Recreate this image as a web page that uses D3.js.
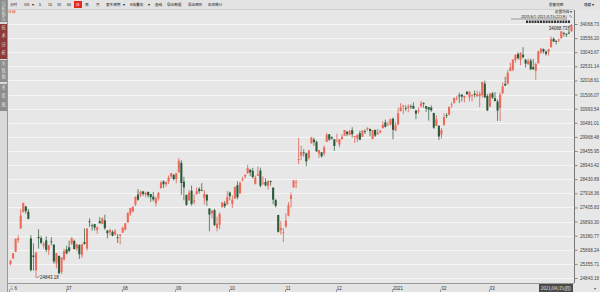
<!DOCTYPE html>
<html><head><meta charset="utf-8">
<script src="https://cdn.jsdelivr.net/npm/d3@7/dist/d3.min.js"></script>
<style>
html,body{margin:0;padding:0;background:#e6e6e6;overflow:hidden}
svg{display:block}
text{font-family:"Noto Sans CJK SC","Noto Sans",sans-serif}
</style></head><body>
<svg id="c" width="600" height="292"></svg>
<script>
const dates = [
"2020-06-01","2020-06-02","2020-06-03","2020-06-04","2020-06-05","2020-06-08","2020-06-09","2020-06-10","2020-06-11","2020-06-12","2020-06-15","2020-06-16","2020-06-17","2020-06-18","2020-06-19","2020-06-22","2020-06-23","2020-06-24","2020-06-25","2020-06-26","2020-06-29","2020-06-30",
"2020-07-01","2020-07-02","2020-07-06","2020-07-07","2020-07-08","2020-07-09","2020-07-10","2020-07-13","2020-07-14","2020-07-15","2020-07-16","2020-07-17","2020-07-20","2020-07-21","2020-07-22","2020-07-23","2020-07-24","2020-07-27","2020-07-28","2020-07-29","2020-07-30","2020-07-31",
"2020-08-03","2020-08-04","2020-08-05","2020-08-06","2020-08-07","2020-08-10","2020-08-11","2020-08-12","2020-08-13","2020-08-14","2020-08-17","2020-08-18","2020-08-19","2020-08-20","2020-08-21","2020-08-24","2020-08-25","2020-08-26","2020-08-27","2020-08-28","2020-08-31",
"2020-09-01","2020-09-02","2020-09-03","2020-09-04","2020-09-08","2020-09-09","2020-09-10","2020-09-11","2020-09-14","2020-09-15","2020-09-16","2020-09-17","2020-09-18","2020-09-21","2020-09-22","2020-09-23","2020-09-24","2020-09-25","2020-09-28","2020-09-29","2020-09-30",
"2020-10-01","2020-10-02","2020-10-05","2020-10-06","2020-10-07","2020-10-08","2020-10-09","2020-10-12","2020-10-13","2020-10-14","2020-10-15","2020-10-16","2020-10-19","2020-10-20","2020-10-21","2020-10-22","2020-10-23","2020-10-26","2020-10-27","2020-10-28","2020-10-29","2020-10-30",
"2020-11-02","2020-11-03","2020-11-04","2020-11-05","2020-11-06","2020-11-09","2020-11-10","2020-11-11","2020-11-12","2020-11-13","2020-11-16","2020-11-17","2020-11-18","2020-11-19","2020-11-20","2020-11-23","2020-11-24","2020-11-25","2020-11-27","2020-11-30",
"2020-12-01","2020-12-02","2020-12-03","2020-12-04","2020-12-07","2020-12-08","2020-12-09","2020-12-10","2020-12-11","2020-12-14","2020-12-15","2020-12-16","2020-12-17","2020-12-18","2020-12-21","2020-12-22","2020-12-23","2020-12-24","2020-12-28","2020-12-29","2020-12-30","2020-12-31",
"2021-01-04","2021-01-05","2021-01-06","2021-01-07","2021-01-08","2021-01-11","2021-01-12","2021-01-13","2021-01-14","2021-01-15","2021-01-19","2021-01-20","2021-01-21","2021-01-22","2021-01-25","2021-01-26","2021-01-27","2021-01-28","2021-01-29",
"2021-02-01","2021-02-02","2021-02-03","2021-02-04","2021-02-05","2021-02-08","2021-02-09","2021-02-10","2021-02-11","2021-02-12","2021-02-16","2021-02-17","2021-02-18","2021-02-19","2021-02-22","2021-02-23","2021-02-24","2021-02-25","2021-02-26",
"2021-03-01","2021-03-02","2021-03-03","2021-03-04","2021-03-05","2021-03-08","2021-03-09","2021-03-10","2021-03-11","2021-03-12","2021-03-15","2021-03-16","2021-03-17","2021-03-18","2021-03-19","2021-03-22","2021-03-23","2021-03-24","2021-03-25","2021-03-26","2021-03-29","2021-03-30","2021-03-31",
"2021-04-01","2021-04-05","2021-04-06","2021-04-07","2021-04-08","2021-04-09","2021-04-12","2021-04-13","2021-04-14","2021-04-15"];

const opens = [
25343,25560,25800,26220,26650,27233,27447,27251,26282,25660,25126,26339,26293,26018,26208,25852,26170,26056,25378,25648,25057,25512,
25879,25958,26083,26190,25922,26035,25675,26152,25913,26900,26756,26798,26590,26903,26810,26935,26565,26509,26522,26422,26322,26383,
26493,26600,26859,27177,27263,27513,27872,27848,27987,27869,27970,27893,27802,27562,27729,28107,28351,28248,28350,28532,28587,
28440,28679,29028,28341,27855,27667,28015,27616,27884,28082,28042,27756,27861,27369,27190,27309,26663,26780,27416,27550,27511,
27944,27536,27722,28214,27914,28418,28529,28642,28773,28737,28253,28554,28746,28307,28331,28187,28370,28127,27671,27134,26574,26497,
26723,27110,27711,28133,28296,29157,29284,29403,29369,29197,29735,29870,29784,29359,29407,29361,29790,30062,29957,29880,
29799,29695,29880,30010,30155,30035,30211,29965,29904,30100,29972,30182,30251,30260,29887,30224,30063,30131,30283,30493,30389,30417,
30627,30205,30422,30904,31070,31015,31015,31085,31094,30926,30887,31077,31191,31086,31050,31030,30834,30364,30375,
30054,30393,30755,30773,31143,31210,31351,31477,31505,31393,31603,31405,31470,31539,31443,31447,31484,31905,31455,
31065,31550,31371,31253,31018,31560,31893,31904,32359,32403,32756,32976,32768,32952,32774,32614,32737,32505,32365,32642,33030,33154,33061,
33054,33222,33533,33452,33494,33549,33746,33712,33755,33802];

const highs = [
25500,25742,26270,26400,27337,27580,27448,27355,26400,26097,25803,26611,26372,26147,26361,26050,26329,26056,25746,25648,25596,25905,
26016,26204,26321,26241,26083,26072,26082,26643,26643,27008,26823,26808,26718,27054,27050,27146,26586,26627,26580,26622,26440,26434,
26712,26836,27230,27394,27444,27800,28069,28013,28004,27977,27982,27901,27968,27791,27968,28372,28394,28342,28570,28655,28623,
28660,29199,29121,28518,27885,28033,28199,27880,28136,28141,28287,28030,27906,27370,27320,27355,27070,27230,27602,27640,28007,
27984,27842,28163,28354,28344,28517,28612,28956,28806,28846,28563,28894,28851,28535,28464,28394,28373,28128,27718,27134,26908,26660,
27190,27602,27945,28402,28411,29933,29645,29519,29396,29484,29964,29941,29837,29498,29424,29656,30117,30069,29990,29880,
30083,29884,30059,30219,30185,30231,30320,30000,30046,30192,30200,30249,30304,30260,30216,30226,30262,30209,30526,30595,30526,30637,
30675,30505,31023,31194,31140,31119,31154,31147,31224,30957,31045,31272,31231,31086,31052,31111,30846,30752,30375,
30290,30821,30837,31077,31223,31392,31469,31574,31521,31469,31644,31633,31510,31651,31654,31624,31977,32010,31530,
31572,31598,31596,31325,31587,31946,32151,32389,32661,32779,32954,33047,33048,33227,32796,32810,32810,32800,32667,33098,33207,33183,33115,
33167,33618,33581,33493,33533,33811,33784,33724,34004,34068.73];

const lows = [
25305,25530,25780,26120,26630,27232,27180,26975,25082,25112,24843.18,25913,26070,25907,25788,25677,26031,25364,25194,24972,24991,25471,
25702,25778,26049,25886,25813,25536,25565,26052,25836,26702,26565,26564,26446,26810,26795,26590,26284,26392,26356,26385,26115,26063,
26479,26567,26854,27097,27236,27451,27648,27781,27823,27781,27764,27610,27631,27450,27652,28089,28110,28157,28257,28460,28392,
28281,28679,27865,27665,27461,27643,27472,27522,27884,27907,27998,27512,27464,26537,27005,26734,26537,26628,27400,27386,27511,
27668,27383,27722,27700,27914,28351,28450,28638,28542,28458,28247,28554,28141,28226,28167,28050,28198,27523,27401,26492,26423,26143,
26658,27084,27400,28133,28106,28981,29122,29251,28902,29148,29731,29648,29437,29207,29219,29278,29790,29823,29864,29464,
29799,29591,29880,30010,29994,30035,29948,29747,29779,29853,29970,30075,30193,29990,29888,29965,30055,30104,30283,30304,30382,30381,
29881,30172,30385,30897,30793,30906,30865,30967,30980,30614,30814,31044,31026,30871,30558,30876,30257,30364,29856,
29905,30393,30650,30750,31026,31173,31292,31198,31259,31220,31485,31262,31257,31401,31423,31051,31396,31384,30905,
31065,31350,31262,30548,30547,31512,31824,31875,32359,32356,32663,32782,32566,32818,32485,32581,32392,32420,32042,32642,32969,32999,32919,
32924,33222,33417,33326,33409,33546,33609,33590,33701,33802];

const closes = [
25475,25743,26270,26282,27111,27572,27272,26990,25128,25606,25763,26290,26120,26080,25871,26025,26156,25446,25746,25016,25596,25813,
25735,25827,26287,25890,26067,25706,26075,26086,26643,26870,26735,26672,26681,26840,27006,26652,26470,26585,26379,26540,26314,26428,
26664,26828,27202,27387,27433,27791,27687,27977,27897,27931,27845,27778,27693,27740,27930,28308,28248,28332,28492,28654,28430,
28646,29101,28293,28133,27501,27940,27535,27666,27993,27996,28032,27902,27657,27148,27288,26763,26815,27174,27584,27453,27782,
27817,27683,28149,27773,28303,28426,28587,28838,28680,28514,28494,28606,28195,28309,28211,28364,28336,27685,27463,26520,26659,26502,
26925,27480,27848,28390,28323,29158,29421,29398,29080,29480,29950,29783,29438,29483,29263,29591,30046,29872,29910,29639,
29824,29884,29970,30218,30070,30174,30069,29999,30046,29862,30200,30155,30303,30179,30216,30016,30130,30199,30404,30336,30410,30606,
30224,30392,30829,31041,31098,31009,31069,31060,30992,30814,30931,31188,31176,30997,30960,30937,30303,30603,29983,
30212,30687,30724,31056,31148,31386,31376,31438,31431,31458,31523,31613,31493,31494,31522,31537,31962,31402,30932,
31536,31392,31270,30924,31496,31802,31833,32297,32486,32779,32953,32826,33015,32862,32628,32731,32423,32420,32619,33073,33171,33067,32982,
33153,33527,33430,33446,33504,33801,33745,33677,33731,34036];

const yTickLabels = ["24843.18","25355.71","25868.24","26380.77","26893.30","27405.83","27918.36","28430.89","28943.42","29455.95","29968.48","30481.01","30993.54","31506.07","32018.61","32531.14","33043.67","33556.20","34068.73"];

const monthStarts = ["2020-06-01","2020-07-01","2020-08-03","2020-09-01","2020-10-01","2020-11-02","2020-12-01","2021-01-04","2021-02-01","2021-03-01"];
const monthLabels = ["6","07","08","09","10","11","12","2021","02","03"];

const toolbarItems = ["分时","5日","▾","5","15","30","60","日","周","月","更多周期","▾","K线叠加","▾","画线","导出数据","导出图形","区间统计"];
const toolbarX = [10,24,32,39,48,57,67,76,85,96,106,123,130,148,155,167,188,208];
const sideTabs = ["分析报告","技术分析","关联图","多股图"];

const yMin = 24843.18, yMax = 34068.73;
const svg = d3.select("#c");
const W = 600, H = 292;
const plotL = 8, plotR = 574, plotTop = 10, plotBot = 283;
const numFont = "'Liberation Sans',Arial,sans-serif";

const x = d3.scaleBand().domain(dates).range([9, 573]).padding(0.18);
const y = d3.scaleLinear().domain([yMin, yMax]).range([278, 24]);

svg.append("rect").attr("x",0).attr("y",0).attr("width",W).attr("height",H).attr("fill","#e7e7e7");
svg.append("g").selectAll("line").data(yTickLabels).join("line")
  .attr("x1",plotL+1).attr("x2",plotR)
  .attr("y1",d=>Math.round(y(+d))+0.5).attr("y2",d=>Math.round(y(+d))+0.5)
  .attr("stroke","#f6f6f6").attr("stroke-width",1);

// right axis
const axis = d3.axisRight(y).tickValues(yTickLabels.map(Number)).tickSize(3).tickFormat((d,i)=>yTickLabels[i]);
const ag = svg.append("g").attr("transform",`translate(${plotR+0.5},0)`).call(axis);
ag.select(".domain").attr("stroke","#777").attr("d",`M0,${plotTop}V${plotBot}`);
ag.selectAll(".tick line").attr("stroke","#888");
ag.selectAll(".tick text").attr("x",5.5).attr("fill","#444").style("font-size","4.6px").style("font-family",numFont);

// candles
const cw = x.bandwidth();
const g = svg.append("g");
const upC = "#ee6a58", dnC = "#2b5a3a";
dates.forEach((d,i)=>{
  const o=opens[i], c=closes[i], h=highs[i], l=lows[i];
  const col = c>=o ? upC : dnC;
  const cx = x(d)+cw/2;
  g.append("line").attr("x1",cx).attr("x2",cx).attr("y1",y(h)).attr("y2",y(l)).attr("stroke",c>=o?"#e0604f":"#3d6b4a").attr("stroke-width",0.8);
  const top = y(Math.max(o,c)), bot = y(Math.min(o,c));
  g.append("rect").attr("x",x(d)).attr("y",top).attr("width",cw).attr("height",Math.max(0.8,bot-top)).attr("fill",col);
});

// extremes
const iLow = lows.indexOf(d3.min(lows)), iHigh = highs.indexOf(d3.max(highs));
const lx = x(dates[iLow])+cw/2, ly = y(lows[iLow]);
svg.append("line").attr("x1",lx+1).attr("y1",ly).attr("x2",lx+3.5).attr("y2",ly-2).attr("stroke","#333").attr("stroke-width",0.6);
svg.append("text").attr("x",lx+4).attr("y",ly+1).text(d3.format(".2f")(lows[iLow]))
  .attr("fill","#222").style("font-size","4.5px").style("font-family",numFont);
const hx = x(dates[iHigh])+cw/2, hy = y(highs[iHigh]);
svg.append("text").attr("x",hx-4).attr("y",hy+5.5).attr("text-anchor","end").text(d3.format(".2f")(highs[iHigh]))
  .attr("fill","#222").style("font-size","4.5px").style("font-family",numFont);
svg.append("line").attr("x1",hx-3.5).attr("y1",hy+4).attr("x2",hx-1).attr("y2",hy+1).attr("stroke","#333").attr("stroke-width",0.6);

// bottom axis strip
svg.append("rect").attr("x",plotL).attr("y",plotBot).attr("width",plotR-plotL).attr("height",H-plotBot).attr("fill","#e4e4e4");
svg.append("line").attr("x1",plotL).attr("x2",plotR).attr("y1",plotBot+0.5).attr("y2",plotBot+0.5).attr("stroke","#999");
svg.append("g").selectAll("line").data(monthStarts).join("line")
  .attr("x1",d=>Math.round(x(d))+0.5).attr("x2",d=>Math.round(x(d))+0.5)
  .attr("y1",289.5).attr("y2",292).attr("stroke","#999");
svg.append("g").selectAll("text").data(monthStarts).join("text")
  .attr("x",(d,i)=>x(d)+ (i===0?5:1)).attr("y",289.5).text((d,i)=>monthLabels[i])
  .attr("fill","#333").style("font-size","4.5px").style("font-family",numFont);
svg.append("text").attr("x",9.5).attr("y",289.5).text("≡").attr("fill","#333").style("font-size","4px");
// date box
svg.append("rect").attr("x",539).attr("y",284).attr("width",34).attr("height",8).attr("fill","#4a4a4a");
svg.append("text").attr("x",556).attr("y",290).attr("text-anchor","middle").text("2021/04/15(四)")
  .attr("fill","#e8e8e8").style("font-size","4.4px");
svg.append("text").attr("x",594).attr("y",290).text("▾").attr("fill","#555").style("font-size","4px");

// toolbar
svg.append("rect").attr("x",plotL).attr("y",0).attr("width",W-plotL).attr("height",9).attr("fill","#e3e3e3");
svg.append("line").attr("x1",plotL).attr("x2",plotR).attr("y1",9.5).attr("y2",9.5).attr("stroke","#cfcfcf");
svg.append("rect").attr("x",74).attr("y",1).attr("width",8).attr("height",7).attr("fill","#e42a1e");
svg.append("g").selectAll("text").data(toolbarItems).join("text")
  .attr("x",(d,i)=>toolbarX[i]).attr("y",6).text(d=>d)
  .attr("fill",d=>d==="日"?"#fff":"#222").style("font-size","3.6px");
svg.append("text").attr("x",8).attr("y",13).text("日线").attr("fill","#e8451e").style("font-size","3.8px");
svg.append("text").attr("x",549).attr("y",6).text("前复权图").attr("fill","#222").style("font-size","3.6px");
svg.append("text").attr("x",584).attr("y",6).text("隐藏 ▾").attr("fill","#222").style("font-size","3.6px");
svg.append("text").attr("x",572).attr("y",12.5).attr("text-anchor","end").text("设置均线   ▾").attr("fill","#222").style("font-size","3.6px");
svg.append("text").attr("x",567).attr("y",18).attr("text-anchor","end").text("2020/6/1-2021/4/15(221天)").attr("fill","#222").style("font-size","3.7px");
svg.append("line").attr("x1",511).attr("x2",567).attr("y1",19).attr("y2",19).attr("stroke","#444").attr("stroke-width",0.5);
svg.append("text").attr("x",569).attr("y",18).text("✎").attr("fill","#222").style("font-size","3.5px");
svg.append("g").selectAll("rect").data(d3.range(16)).join("rect")
  .attr("x",d=>526+d*2.8).attr("y",20.5).attr("width",2).attr("height",2.5).attr("fill","#333");

// left sidebar
svg.append("rect").attr("x",0).attr("y",0).attr("width",7).attr("height",H).attr("fill","#d9d9d9");
const tabs = [[0,22,"#8d8d8d"],[24,35,"#8e3a3a"],[60,22,"#8d8d8d"],[84,27,"#8d8d8d"]];
tabs.forEach((t,i)=>{
  svg.append("rect").attr("x",0).attr("y",t[0]).attr("width",7).attr("height",t[1]).attr("fill",t[2]);
  const chars = sideTabs[i].split("");
  chars.forEach((ch,k)=>{
    svg.append("text").attr("x",3.5).attr("y",t[0]+5+k*(t[1]-2)/chars.length).attr("text-anchor","middle")
      .text(ch).attr("fill","#ddd").style("font-size","4.2px");
  });
});
svg.append("line").attr("x1",7.5).attr("x2",7.5).attr("y1",0).attr("y2",H).attr("stroke","#9a9a9a");
</script>
</body></html>
